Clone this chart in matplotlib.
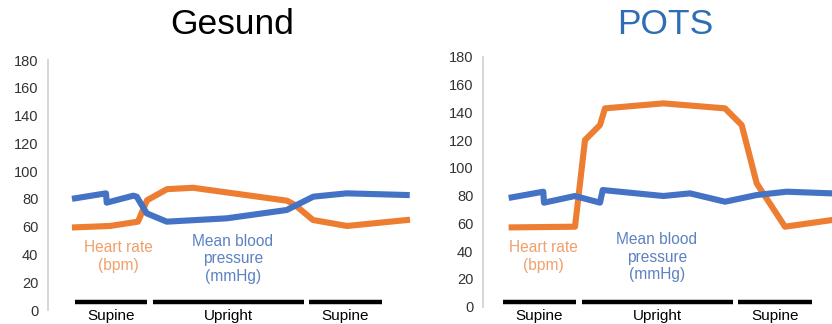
import matplotlib.pyplot as plt

plt.rcParams['font.family'] = ['Liberation Sans', 'DejaVu Sans']

ORANGE = '#ED7D31'
BLUE = '#4472C4'

# Gesund (healthy)
hr_x_gesund = [27, 62, 90, 99, 119, 145, 239, 247, 265, 299, 359]
hr_gesund = [59.5, 60.5, 63.6, 79, 87, 88, 78.7, 75.6, 64.8, 60.5, 64.8]
bp_x_gesund = [27, 58, 58.7, 85.3, 88.7, 98.7, 118.7, 178.7, 238.7, 265.3, 298.7, 358.7]
bp_gesund = [80.4, 84, 77.3, 82.3, 81.6, 69.6, 63.6, 66, 72, 81.6, 84, 82.8]

# POTS
hr_x_pots = [28.7, 92, 102, 117, 122, 180.3, 242, 258.7, 273.7, 302, 349]
hr_pots = [57.1, 57.6, 120, 130.8, 142.8, 146.4, 142.8, 130.8, 88.8, 57.6, 62.4]
bp_x_pots = [28.7, 60.3, 61, 92, 117, 119.7, 180.3, 207, 242, 273.7, 303.7, 349]
bp_pots = [78.7, 82.8, 74.9, 79.7, 74.9, 84, 79.7, 81.6, 75.6, 80.4, 82.8, 81.6]

phases = ['Supine', 'Upright', 'Supine']
phase_spans_gesund = [(27, 99), (105, 256), (261, 334)]
phase_spans_pots = [(20, 93), (99, 250), (255, 329)]

yticks = [0, 20, 40, 60, 80, 100, 120, 140, 160, 180]

W, H = 832, 324
fig = plt.figure(figsize=(W / 100, H / 100), dpi=100)


def panel(rect, xmax, hr_x, hr, bp_x, bp, spans, bar_y, lab_y,
          hr_lab, bp_lab):
    ax = fig.add_axes(rect)
    ax.plot(hr_x, hr, color=ORANGE, lw=4.4, solid_joinstyle='round')
    ax.plot(bp_x, bp, color=BLUE, lw=4.4, solid_joinstyle='round')
    for (a, b), name in zip(spans, phases):
        ax.plot([a, b], [bar_y, bar_y], color='black', lw=3.2,
                solid_capstyle='butt', clip_on=False)
        ax.text((a + b) / 2, lab_y, name, ha='center', va='center',
                fontsize=11, clip_on=False)
    ax.text(hr_lab[0], hr_lab[1], 'Heart rate\n(bpm)', color='#F0A06A',
            ha='center', va='center', fontsize=11.2, linespacing=1.2)
    ax.text(bp_lab[0], bp_lab[1], 'Mean blood\npressure\n(mmHg)',
            color='#5D82C2', ha='center', va='center', fontsize=11.2,
            linespacing=1.2)
    ax.set_xlim(0, xmax)
    ax.set_ylim(0, 180)
    ax.set_yticks(yticks)
    ax.set_xticks([])
    ax.tick_params(axis='y', length=0, pad=7, labelsize=10.5,
                   labelcolor='#333333')
    for s in ['top', 'right', 'bottom']:
        ax.spines[s].set_visible(False)
    ax.spines['left'].set_color('#D0D0D0')
    ax.spines['left'].set_linewidth(1.2)
    ax.patch.set_alpha(0)
    return ax


panel([48 / W, 14 / H, 372 / W, 250 / H], 372,
      hr_x_gesund, hr_gesund, bp_x_gesund, bp_gesund,
      phase_spans_gesund, 6, -4.5, (70, 38.5), (185, 37))

panel([483 / W, 17.3 / H, 349 / W, 250 / H], 349,
      hr_x_pots, hr_pots, bp_x_pots, bp_pots,
      phase_spans_pots, 3.6, -6.7, (60, 36), (173.7, 35.5))

fig.text(232.5 / W, 1 - 25 / H, 'Gesund', ha='center', va='center',
         fontsize=25.5, color='black')
fig.text(665.5 / W, 1 - 25 / H, 'POTS', ha='center', va='center',
         fontsize=25.5, color='#2F6DB5')

fig.savefig('out.png', dpi=100)
